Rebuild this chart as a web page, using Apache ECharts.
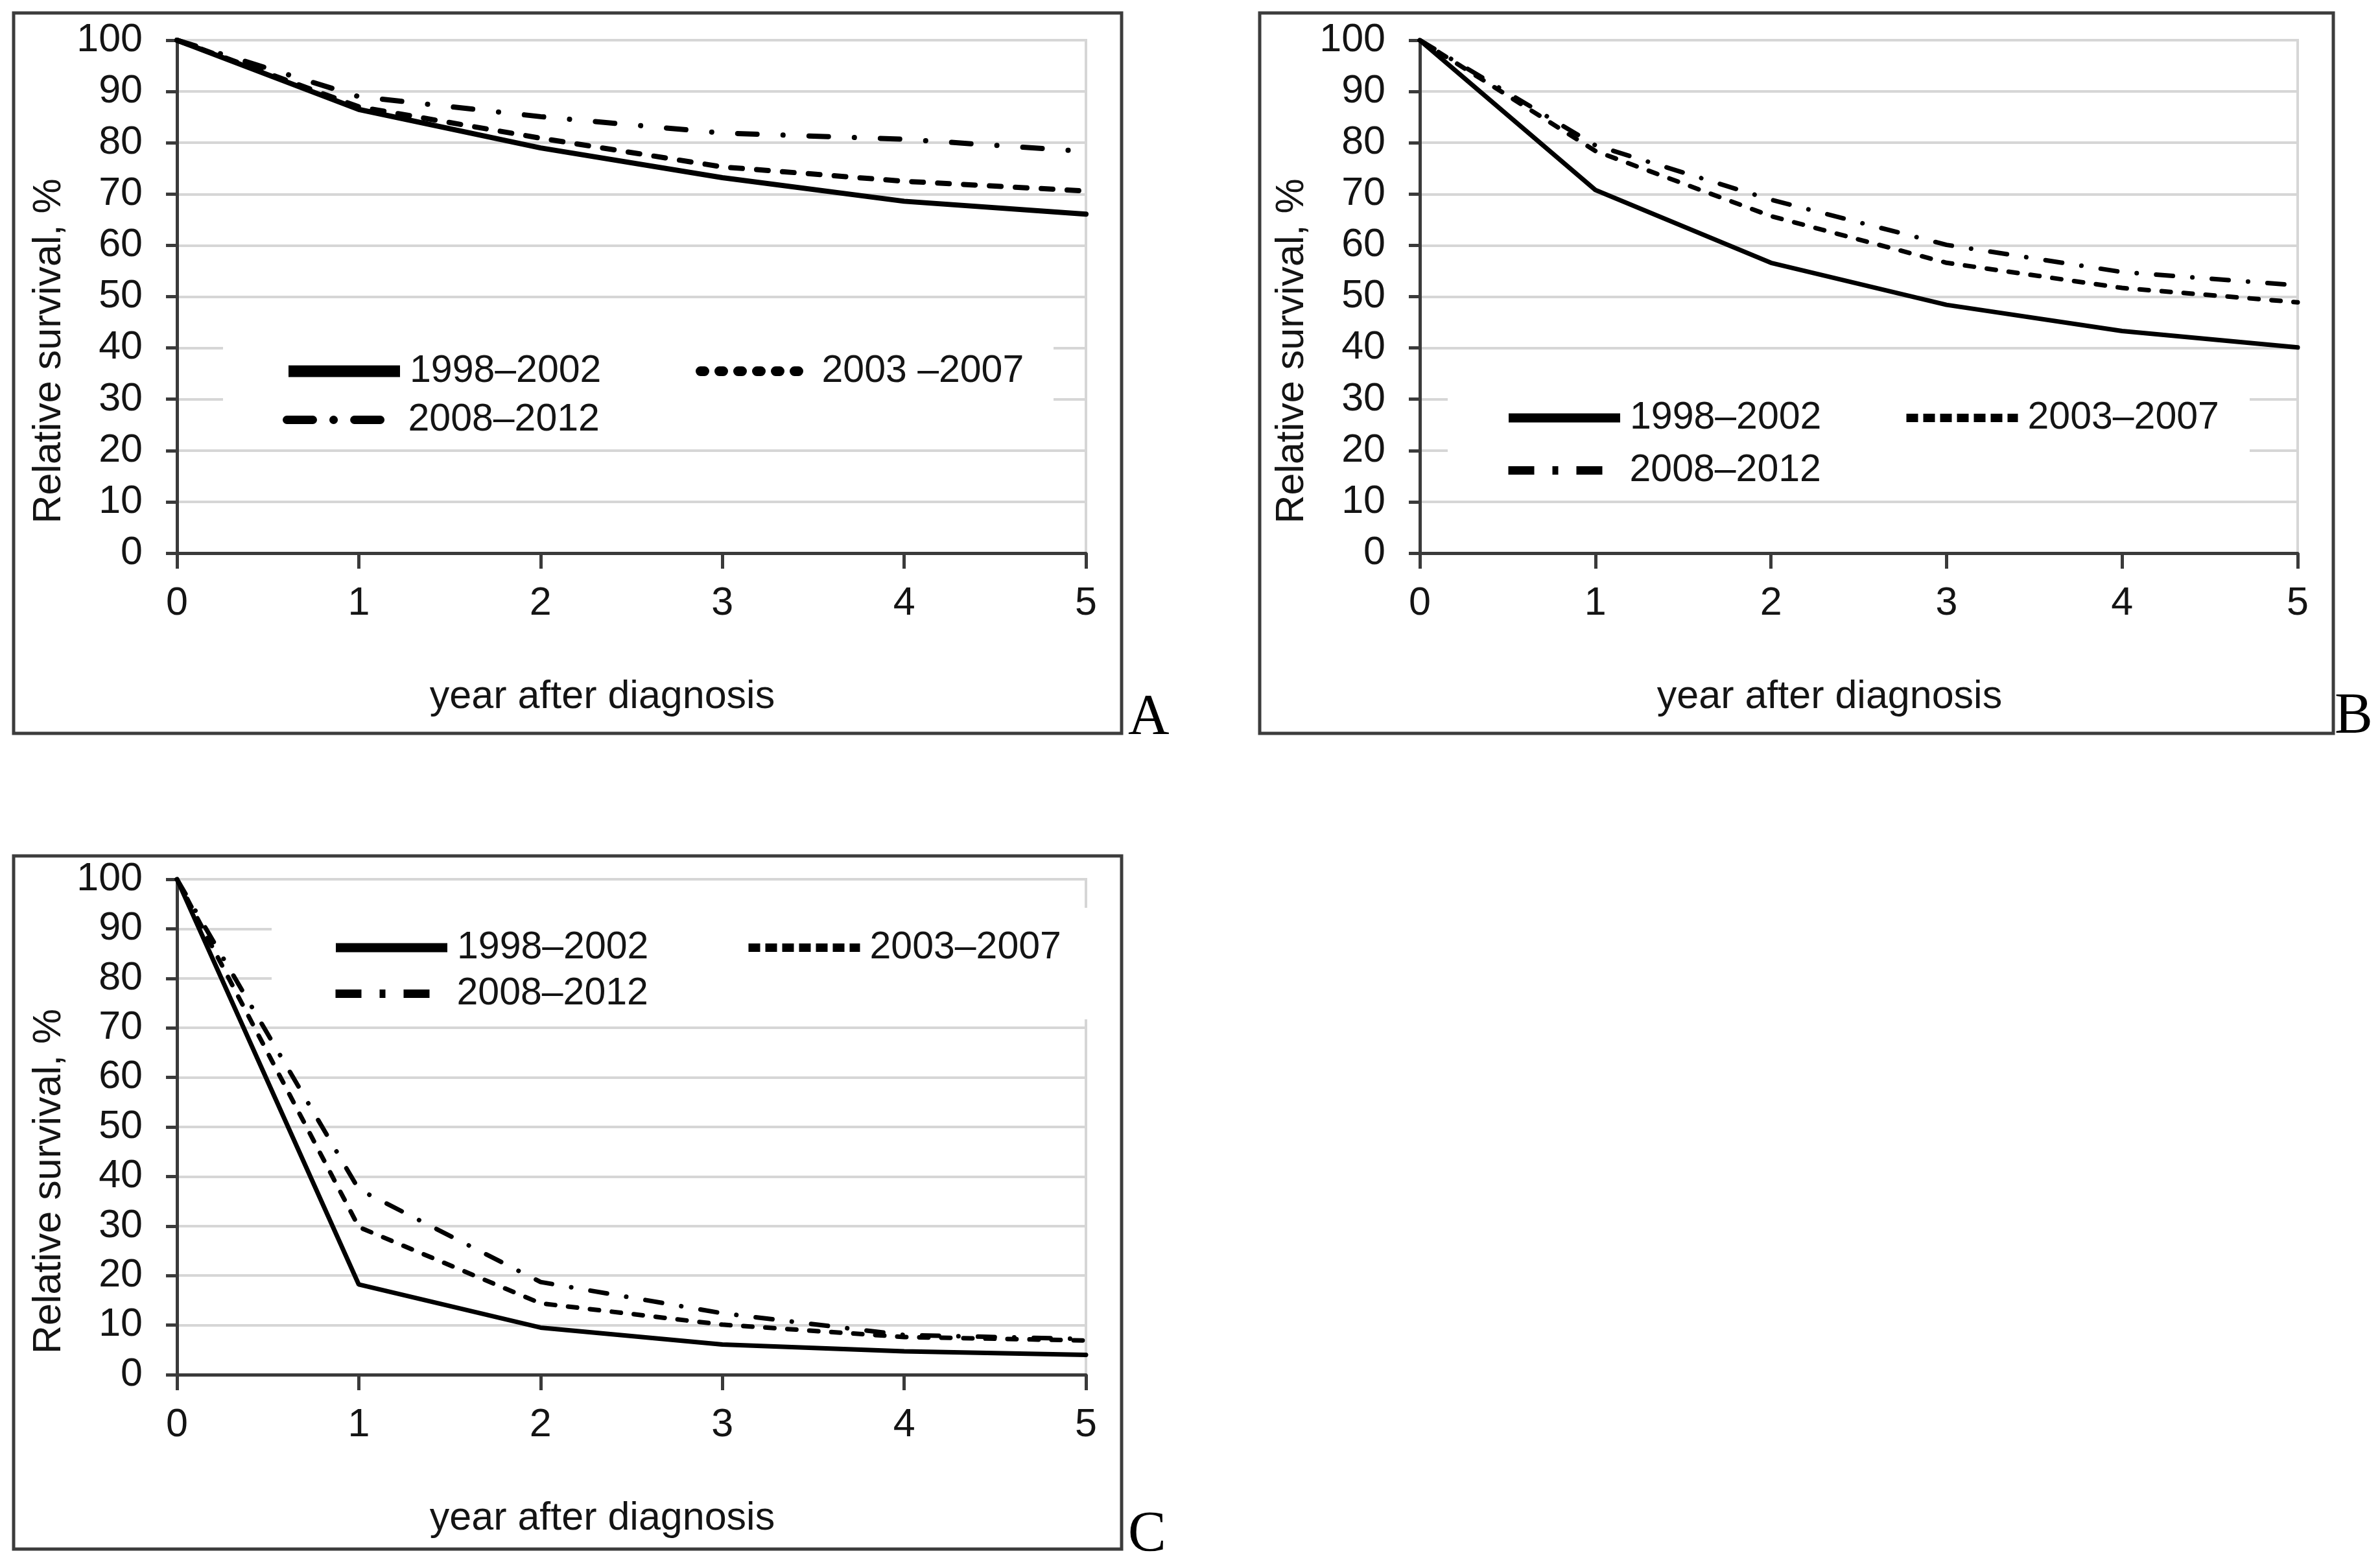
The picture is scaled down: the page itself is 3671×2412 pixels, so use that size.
<!DOCTYPE html>
<html>
<head>
<meta charset="utf-8">
<script src="https://cdn.jsdelivr.net/npm/echarts@6/dist/echarts.min.js"></script>
<style>
html,body{margin:0;padding:0;background:#fff;}
#chart{width:3671px;height:2412px;}
</style>
</head>
<body>
<div id="chart"></div>
<script>
// ---------- DATA ----------
const years = [0, 1, 2, 3, 4, 5];
const labelsA = ['1998–2002', '2003 –2007', '2008–2012'];
const labelsB = ['1998–2002', '2003–2007', '2008–2012'];
const labelsC = ['1998–2002', '2003–2007', '2008–2012'];

const A_1998_2002 = [100, 86.5, 79.0, 73.2, 68.6, 66.1];
const A_2003_2007 = [100, 87.0, 80.9, 75.3, 72.5, 70.6];
const A_2008_2012 = [100, 89.0, 85.1, 81.9, 80.7, 78.3];

const B_1998_2002 = [100, 70.8, 56.6, 48.4, 43.3, 40.1];
const B_2003_2007 = [100, 78.4, 65.7, 56.6, 51.7, 48.9];
const B_2008_2012 = [100, 79.5, 68.9, 60.1, 54.8, 52.2];

const C_1998_2002 = [100, 18.2, 9.5, 6.1, 4.7, 4.0];
const C_2003_2007 = [100, 29.8, 14.4, 10.1, 7.6, 6.9];
const C_2008_2012 = [100, 37.4, 18.7, 12.4, 8.0, 7.2];

const axisTitleX = 'year after diagnosis';
const axisTitleY = 'Relative survival, %';

// ---------- LAYOUT / STYLE ----------
const FONT = "'Liberation Sans', Arial, sans-serif";
const AXIS_COLOR = '#3a3a3a';
const GRID_COLOR = '#d6d6d6';
const TEXT_COLOR = '#141414';

const panels = [
  {
    key: 'A', labels: labelsA, values: [A_1998_2002, A_2003_2007, A_2008_2012],
    grid: {left: 273, top: 62, width: 1402, height: 791},
    line: [
      {width: 8, type: 'solid', cap: 'round'},
      {width: 8, type: [18, 22], cap: 'round'},
      {width: 8, type: [30, 40, 0.1, 40], cap: 'round'}
    ],
    icon: [
      {width: 18, type: 'solid', cap: 'butt'},
      {width: 15, type: [6, 23], cap: 'round'},
      {width: 13, type: [40, 32, 0.1, 32], cap: 'round'}
    ],
    legendPos: [[436, 543], [1073, 543], [436, 618]],
    mask: [344, 505, 1281, 183],
    box: [21, 20, 1709, 1111],
    letter: [1740, 1152]
  },
  {
    key: 'B', labels: labelsB, values: [B_1998_2002, B_2003_2007, B_2008_2012],
    grid: {left: 2190, top: 62, width: 1354, height: 791},
    line: [
      {width: 7, type: 'solid', cap: 'round'},
      {width: 7, type: [14, 20], cap: 'round'},
      {width: 7, type: [26, 30, 0.1, 30], cap: 'round'}
    ],
    icon: [
      {width: 14, type: 'solid', cap: 'butt'},
      {width: 13, type: [18, 8], cap: 'butt'},
      {width: 13, type: [40, 28, 9, 28], cap: 'butt'}
    ],
    legendPos: [[2320, 615], [2934, 615], [2320, 696]],
    mask: [2233, 590, 1237, 172],
    box: [1943, 20, 1656, 1111],
    letter: [3601, 1150]
  },
  {
    key: 'C', labels: labelsC, values: [C_1998_2002, C_2003_2007, C_2008_2012],
    grid: {left: 273, top: 1356, width: 1402, height: 764},
    line: [
      {width: 7, type: 'solid', cap: 'round'},
      {width: 7, type: [14, 20], cap: 'round'},
      {width: 7, type: [26, 30, 0.1, 30], cap: 'round'}
    ],
    icon: [
      {width: 14, type: 'solid', cap: 'butt'},
      {width: 13, type: [18, 8], cap: 'butt'},
      {width: 13, type: [40, 28, 9, 28], cap: 'butt'}
    ],
    legendPos: [[511, 1432], [1148, 1432], [511, 1503]],
    mask: [419, 1400, 1285, 172],
    box: [21, 1320, 1709, 1069],
    letter: [1740, 2412]
  }
];

// ---------- BUILD OPTION ----------
const grids = [], xAxes = [], yAxes = [], series = [], legends = [], graphics = [];

panels.forEach((p, gi) => {
  grids.push(Object.assign({
    show: true, borderColor: GRID_COLOR, borderWidth: 4,
    backgroundColor: 'transparent', containLabel: false, outerBoundsMode: 'none'
  }, p.grid));

  xAxes.push({
    gridIndex: gi, type: 'value', min: 0, max: 5, interval: 1,
    name: axisTitleX, nameLocation: 'middle', nameGap: 192,
    nameTextStyle: {fontFamily: FONT, fontSize: 61, color: TEXT_COLOR, padding: [0, 90, 0, 0]},
    axisLine: {show: true, onZero: false, lineStyle: {color: AXIS_COLOR, width: 5}},
    axisTick: {show: true, length: 24, lineStyle: {color: AXIS_COLOR, width: 5}},
    axisLabel: {fontFamily: FONT, fontSize: 61, color: TEXT_COLOR, margin: 48},
    splitLine: {show: false}
  });

  yAxes.push({
    gridIndex: gi, type: 'value', min: 0, max: 100, interval: 10,
    name: axisTitleY, nameLocation: 'middle', nameGap: 166, nameRotate: 90,
    nameTextStyle: {fontFamily: FONT, fontSize: 61, color: TEXT_COLOR, padding: [0, 168, 0, 0]},
    axisLine: {show: true, lineStyle: {color: AXIS_COLOR, width: 5}},
    axisTick: {show: true, length: 17, lineStyle: {color: AXIS_COLOR, width: 5}},
    axisLabel: {fontFamily: FONT, fontSize: 61, color: TEXT_COLOR, margin: 53},
    splitLine: {show: true, lineStyle: {color: GRID_COLOR, width: 4}}
  });

  p.values.forEach((vals, si) => {
    const name = p.key + '|' + p.labels[si];
    series.push({
      name: name, type: 'line', xAxisIndex: gi, yAxisIndex: gi,
      data: years.map((x, i) => [x, vals[i]]),
      symbol: 'none', smooth: false, z: 3,
      lineStyle: Object.assign({color: '#000'}, p.line[si]),
      emphasis: {disabled: true}
    });
    legends.push({
      data: [name], selectedMode: false, orient: 'horizontal',
      left: p.legendPos[si][0], top: p.legendPos[si][1], padding: 0,
      itemWidth: 172, itemHeight: 20,
      lineStyle: Object.assign({color: '#000'}, p.icon[si]),
      itemStyle: {color: 'rgba(0,0,0,0)', borderWidth: 0, opacity: 0},
      textStyle: {fontFamily: FONT, fontSize: 59, color: TEXT_COLOR, padding: [0, 0, 0, 10]},
      formatter: n => n.split('|')[1]
    });
  });

  graphics.push({
    type: 'rect', z: 1, silent: true,
    shape: {x: p.mask[0], y: p.mask[1], width: p.mask[2], height: p.mask[3]},
    style: {fill: '#fff'}
  });
  graphics.push({
    type: 'rect', z: 0, silent: true,
    shape: {x: p.box[0], y: p.box[1], width: p.box[2], height: p.box[3]},
    style: {fill: null, stroke: '#3c3c3c', lineWidth: 5}
  });
  graphics.push({
    type: 'text', z: 5, silent: true,
    x: p.letter[0], y: p.letter[1],
    style: {text: p.key, font: "88px 'Liberation Serif', 'Times New Roman', serif",
            fill: '#000', textAlign: 'left', textVerticalAlign: 'bottom'}
  });
});

const chart = echarts.init(document.getElementById('chart'), null, {renderer: 'canvas'});
chart.setOption({
  animation: false,
  backgroundColor: '#ffffff',
  grid: grids, xAxis: xAxes, yAxis: yAxes,
  series: series, legend: legends, graphic: graphics
});
</script>
</body>
</html>
